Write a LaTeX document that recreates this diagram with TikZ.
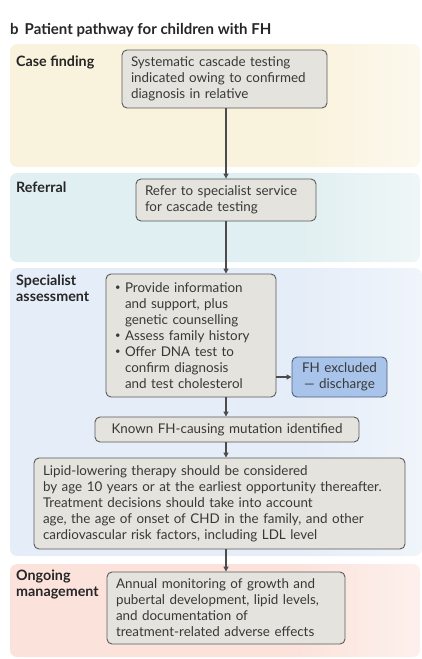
\documentclass[tikz,border=0pt]{standalone}
\usepackage{fontspec}
\setmainfont{Lato}
\usetikzlibrary{arrows.meta}

\definecolor{casec}{HTML}{F9F2DC}
\definecolor{refc}{HTML}{E0EFF1}
\definecolor{specc}{HTML}{E5EDF8}
\definecolor{ongc}{HTML}{FBE3DC}
\definecolor{boxfill}{HTML}{E5E3DD}
\definecolor{boxline}{HTML}{5A5A5A}
\definecolor{exfill}{HTML}{A9C4EA}
\definecolor{exline}{HTML}{4F607C}
\definecolor{txt}{HTML}{383838}

\pgfdeclarehorizontalshading{casefade}{100bp}{color(0bp)=(casec); color(60bp)=(casec); color(92bp)=(white); color(100bp)=(white)}
\pgfdeclarehorizontalshading{reffade}{100bp}{color(0bp)=(refc); color(60bp)=(refc); color(92bp)=(white); color(100bp)=(white)}
\pgfdeclarehorizontalshading{specfade}{100bp}{color(0bp)=(specc); color(60bp)=(specc); color(95bp)=(white); color(100bp)=(white)}
\pgfdeclarehorizontalshading{ongfade}{100bp}{color(0bp)=(ongc); color(60bp)=(ongc); color(92bp)=(white); color(100bp)=(white)}

\newcommand{\bul}{\makebox[10pt][l]{\raisebox{1.6pt}{\scalebox{0.7}{\textbullet}}}}
\newcommand{\ind}{\hspace*{10pt}}

\begin{document}
\begin{tikzpicture}[
    x=1pt, y=-1pt,
    band/.style={rounded corners=7pt},
    stage/.style={anchor=north west, inner sep=0pt, align=left, font=\bfseries\fontsize{14.3pt}{16pt}\selectfont, text=black!85},
    stepbox/.style={rectangle, draw=boxline, fill=boxfill, rounded corners=5pt, line width=0.9pt, align=left, inner xsep=9pt, inner ysep=3pt, text=txt, font=\fontsize{13.4pt}{16pt}\selectfont},
    exbox/.style={stepbox, draw=exline, fill=exfill, align=center},
    arr/.style={-{Triangle[length=5pt, width=5pt]}, line width=1.3pt, draw=black!70}
]
\useasboundingbox (0,0) rectangle (422,659);

% stage bands
\shade[band, shading=casefade] (10,44) rectangle (420,167);
\shade[band, shading=reffade] (10,173) rectangle (420,262);
\shade[band, shading=specfade] (10,268) rectangle (422,556);
\shade[band, shading=ongfade] (10,564) rectangle (420,657);

% title
\node[anchor=base west, inner sep=0pt, font=\bfseries\fontsize{15pt}{16pt}\selectfont, text=black!85] (title) at (10,34)
    {b\hspace{6pt}Patient pathway for children with FH};

% stage labels
\node[stage] (lcase) at (16,56) {Case finding};
\node[stage] (lref) at (16,182) {Referral};
\node[stage] (lspec) at (16,275) {Specialist\\assessment};
\node[stage] (long) at (16,570) {Ongoing\\management};

\coordinate (spine) at (226,0);

% steps
\node[stepbox, text width=187pt, minimum height=58pt] (cascade) at (224.5,79)
    {Systematic cascade testing\\indicated owing to confirmed\\diagnosis in relative};
\node[stepbox, text width=162pt, minimum height=42pt] (refer) at (226,200)
    {Refer to specialist service\\for cascade testing};
\node[stepbox, text width=152pt, minimum height=123pt] (assess) at (191,335.5)
    {\bul Provide information\\\ind and support, plus\\\ind genetic counselling\\
     \bul Assess family history\\\bul Offer DNA test to\\\ind confirm diagnosis\\\ind and test cholesterol};
\node[exbox, text width=77pt, minimum height=40pt] (excl) at (339.5,377)
    {FH excluded\\— discharge};
\node[stepbox, text width=246pt, minimum height=25pt, align=center] (mut) at (227,429.5)
    {Known FH-causing mutation identified};
\node[stepbox, text width=353pt, minimum height=91pt] (therapy) at (219.5,503.5)
    {Lipid-lowering therapy should be considered\\by age 10 years or at the earliest opportunity thereafter.\\
     Treatment decisions should take into account\\age, the age of onset of CHD in the family, and other\\
     cardiovascular risk factors, including LDL level};
\node[stepbox, text width=220pt, minimum height=72pt] (monitor) at (226,608)
    {Annual monitoring of growth and\\pubertal development, lipid levels,\\and documentation of\\treatment-related adverse effects};

% connectors
\draw[arr] (cascade.south -| spine) -- (refer.north -| spine);
\draw[arr] (refer.south -| spine) -- (assess.north -| spine);
\draw[arr] (assess.south -| spine) -- (mut.north -| spine);
\draw[arr] (excl.west -| assess.east) -- (excl.west);
\draw[arr] (mut.south -| spine) -- (therapy.north -| spine);
\draw[arr] (therapy.south -| spine) -- (monitor.north -| spine);
\end{tikzpicture}
\end{document}
